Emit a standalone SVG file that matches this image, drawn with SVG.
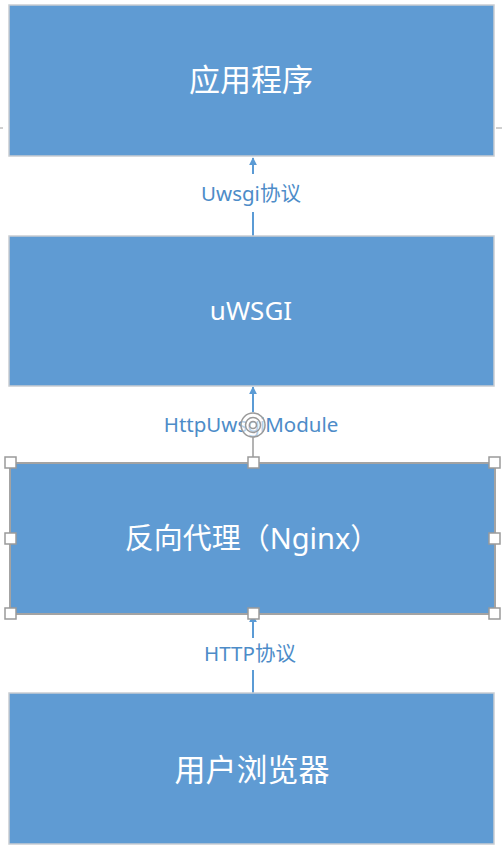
<svg xmlns="http://www.w3.org/2000/svg" width="502" height="856" viewBox="0 0 502 856">
<defs>
<style>
.box{fill:#5f9bd3;stroke:#c9cdd2;stroke-width:1.5}
.sel{fill:#5f9bd3;stroke:#a3a3a3;stroke-width:2}
.t{font-family:"Noto Sans","Noto Sans CJK SC",sans-serif;fill:#ffffff;text-anchor:middle}
.lbl{font-family:"Noto Sans","Noto Sans CJK SC",sans-serif;fill:#4d8cc8;text-anchor:middle;font-size:20.5px}
.conn{stroke:#5b9bd5;stroke-width:2;fill:none}
.h{fill:#ffffff;stroke:#9a9a9a;stroke-width:1.5}
</style>
<marker id="ah" viewBox="0 0 10 10" refX="9" refY="5" markerWidth="4" markerHeight="4" orient="auto">
<path d="M0,0 L10,5 L0,10 z" fill="#5b9bd5"/>
</marker>
</defs>
<rect width="502" height="856" fill="#ffffff"/>
<line x1="0" y1="128" x2="3" y2="128" stroke="#a0a0a0" stroke-width="1"/>
<line x1="496" y1="128" x2="502" y2="128" stroke="#a0a0a0" stroke-width="1"/>
<g id="connectors">
<line class="conn" x1="253" y1="236" x2="253" y2="212"/>
<line class="conn" x1="253" y1="174" x2="253" y2="158" marker-end="url(#ah)"/>
<line class="conn" x1="253" y1="412" x2="253" y2="387" marker-end="url(#ah)"/>
<line class="conn" x1="253" y1="693" x2="253" y2="670"/>
<line class="conn" x1="253" y1="638" x2="253" y2="615" marker-end="url(#ah)"/>
<text class="lbl" x="251" y="201">Uwsgi协议</text>
<text class="lbl" x="251" y="432">HttpUwsgiModule</text>
<text class="lbl" x="250" y="661">HTTP协议</text>
</g>
<g id="app">
<rect class="box" x="9" y="5" width="485" height="151"/>
<text class="t" x="251" y="91" font-size="31">应用程序</text>
</g>
<g id="uwsgi">
<rect class="box" x="9" y="236" width="485" height="150"/>
<text class="t" x="251" y="320" font-size="26">uWSGI</text>
</g>
<g id="nginx">
<rect class="sel" x="10" y="463" width="485" height="151"/>
<text class="t" x="252" y="549" font-size="29">反向代理（Nginx）</text>
<line x1="253" y1="463" x2="253" y2="437" stroke="#9a9a9a" stroke-width="1.5"/>
<circle cx="253" cy="425" r="12" fill="#ffffff" fill-opacity="0.6" stroke="#9a9a9a" stroke-width="1.5"/>
<circle cx="253" cy="425" r="7.5" fill="none" stroke="#9a9a9a" stroke-width="1.5"/>
<circle cx="253" cy="425" r="3.5" fill="none" stroke="#9a9a9a" stroke-width="1.5"/>
<rect class="h" x="5" y="457" width="11" height="11"/>
<rect class="h" x="248" y="457" width="11" height="11"/>
<rect class="h" x="489" y="457" width="11" height="11"/>
<rect class="h" x="5" y="533" width="11" height="11"/>
<rect class="h" x="489" y="533" width="11" height="11"/>
<rect class="h" x="5" y="608" width="11" height="11"/>
<rect class="h" x="248" y="608" width="11" height="11"/>
<rect class="h" x="489" y="608" width="11" height="11"/>
</g>
<g id="browser">
<rect class="box" x="9" y="693" width="485" height="151"/>
<text class="t" x="252" y="781" font-size="31">用户浏览器</text>
</g>
</svg>
